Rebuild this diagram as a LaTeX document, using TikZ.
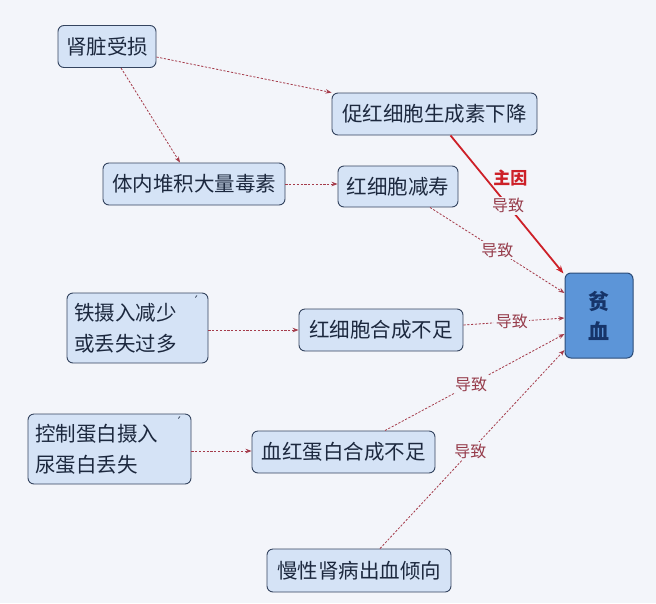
\documentclass[tikz,border=0pt]{standalone}
\usepackage{fontspec}
\setmainfont{Noto Sans CJK SC}
\newfontfamily\dvfont{DejaVu Sans}
\usetikzlibrary{arrows.meta}
\definecolor{bg}{RGB}{243,245,250}
\definecolor{boxfill}{RGB}{213,227,246}
\definecolor{boxline}{RGB}{52,68,95}
\definecolor{boxtext}{RGB}{28,40,62}
\definecolor{pinfill}{RGB}{92,149,216}
\definecolor{pinline}{RGB}{44,76,120}
\definecolor{pintext}{RGB}{22,52,105}
\definecolor{lnk}{RGB}{165,60,75}
\definecolor{lbl}{RGB}{150,60,75}
\definecolor{mainred}{RGB}{205,32,40}
\tikzset{
  box/.style={draw=boxline, line width=0.9pt, fill=boxfill, rounded corners=6pt,
    inner sep=0pt, text=boxtext, font=\fontsize{20.5}{25}\selectfont},
  pinbox/.style={draw=pinline, line width=1pt, fill=pinfill, rounded corners=6pt,
    inner sep=0pt, text=pintext, font=\bfseries\fontsize{21}{30}\selectfont, align=center},
  lnkarrow/.style={draw=lnk, line width=0.8pt, dash pattern=on 2.2pt off 1.6pt,
    -{Stealth[length=6pt,width=4.5pt]}},
  mainarrow/.style={draw=mainred, line width=1.8pt, -{Stealth[length=8pt,width=6pt]}},
  lbltext/.style={fill=bg, inner sep=1.5pt, text=lbl, font=\fontsize{16}{18}\selectfont},
  tick/.style={inner sep=0pt, text=boxtext, font=\dvfont\fontsize{13}{13}\selectfont}
}
\begin{document}
\begin{tikzpicture}[x=1pt,y=-1pt]
\useasboundingbox[fill=bg] (0,0) rectangle (656,603);
% boxes
\node[box, minimum width=98pt, minimum height=42pt] (b1) at (107,46.5) {肾脏受损};
\node[box, minimum width=182pt, minimum height=42pt] (b2) at (194,184) {体内堆积大量毒素};
\node[box, minimum width=205pt, minimum height=42pt] (b3) at (434.5,114) {促红细胞生成素下降};
\node[box, minimum width=120pt, minimum height=41pt] (b4) at (398,186.5) {红细胞减寿};
\node[pinbox, minimum width=68pt, minimum height=85pt] (pin) at (599,315.5) {贫\\血};
\node[box, minimum width=164pt, minimum height=42pt] (b5) at (381,330) {红细胞合成不足};
\node[box, minimum width=141pt, minimum height=70pt, text width=127pt, align=left,
  font=\fontsize{20.5}{31}\selectfont] (b6) at (137.5,328) {铁摄入减少\\或丢失过多};
\node[box, minimum width=163pt, minimum height=70pt, text width=149pt, align=left,
  font=\fontsize{20.5}{31}\selectfont] (b7) at (109.5,449) {控制蛋白摄入\\尿蛋白丢失};
\node[box, minimum width=183pt, minimum height=42pt] (b8) at (343.5,452) {血红蛋白合成不足};
\node[box, minimum width=184pt, minimum height=43pt] (b9) at (359,570.5) {慢性肾病出血倾向};
% small tick marks
\node[tick] (t6) at ([xshift=-12pt,yshift=-8pt]b6.north east) {′};
\node[tick] (t7) at ([xshift=-12pt,yshift=-8pt]b7.north east) {′};
% connectors
\draw[lnkarrow] ([yshift=-10.5pt]b1.east) -- (b3.north west);
\draw[lnkarrow] ([xshift=14pt]b1.south) -- ([xshift=-14pt]b2.north);
\draw[lnkarrow] (b2.east) -- (b2.east -| b4.west);
\draw[lnkarrow] (b6.east |- b5.west) -- (b5.west);
\draw[lnkarrow] ([yshift=-2pt]b7.east) -- ([yshift=-2pt]b7.east -| b8.west);
\draw[mainarrow] ([xshift=16pt]b3.south) -- ([xshift=-1pt,yshift=-1pt]pin.north west)
  node[lbltext, pos=0.51] (l1) {导致}
  node[pos=0.3, xshift=26pt, yshift=-1pt, text=mainred, inner sep=1pt,
       font=\bfseries\fontsize{17}{18}\selectfont] (zy) {主因};
\draw[lnkarrow] ([xshift=32pt]b4.south) -- ([yshift=22.5pt]pin.west)
  node[lbltext, pos=0.5] (l2) {导致};
\draw[lnkarrow] ([yshift=5pt]b5.east) -- ([yshift=-2.5pt]pin.west)
  node[lbltext, pos=0.48] (l3) {导致};
\draw[lnkarrow] ([xshift=41.5pt]b8.north) -- ([yshift=-18.5pt]pin.west)
  node[lbltext, pos=0.48] (l4) {导致};
\draw[lnkarrow] ([xshift=21pt]b9.north) -- ([yshift=-34.5pt]pin.west)
  node[lbltext, pos=0.49] (l5) {导致};
\end{tikzpicture}
\end{document}
